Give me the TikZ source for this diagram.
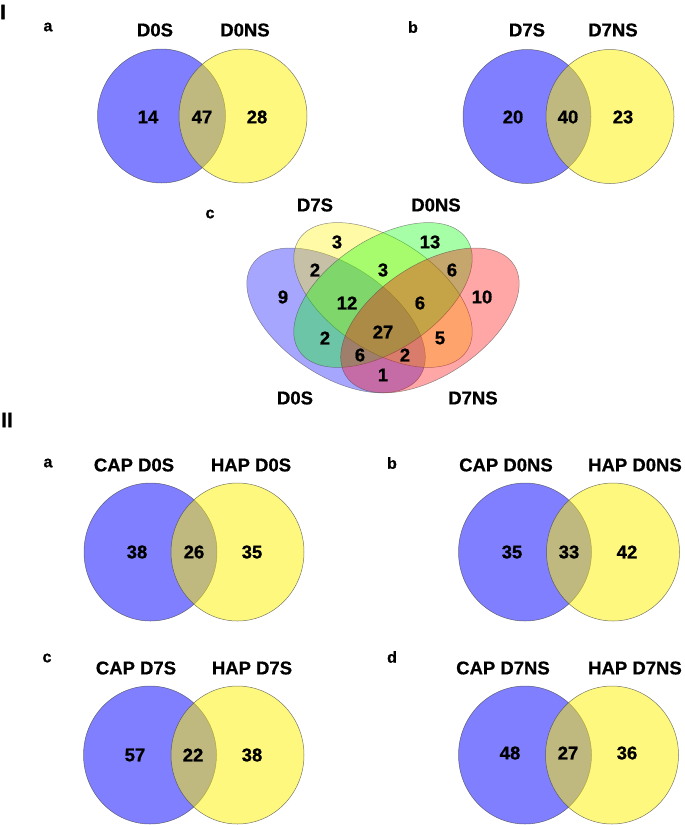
\documentclass[tikz,border=0pt]{standalone}
\usepackage{fontspec}
\setmainfont{Liberation Sans}[BoldFeatures={FakeBold=0.8}]
\usepackage{tikz}
\usetikzlibrary{positioning}

\begin{document}
\begin{tikzpicture}[
  x=1pt,y=1pt,
  lbl/.style={font=\bfseries\fontsize{18.5}{20}\selectfont,inner sep=0pt},
  num/.style={font=\bfseries\fontsize{18.5}{20}\selectfont,inner sep=0pt},
  tag/.style={font=\bfseries\fontsize{16}{18}\selectfont,inner sep=0pt},
  part/.style={font=\bfseries\fontsize{21}{24}\selectfont,inner sep=0pt},
  setblue/.style={fill=blue,fill opacity=0.5,draw=black!75,draw opacity=0.7,line width=0.5pt},
  setyellow/.style={fill=yellow,fill opacity=0.5,draw=black!75,draw opacity=0.7,line width=0.5pt},
  ]
  \tikzset{%
    quad/.style={
      fill opacity=0.35,
      draw=black!70,
      draw opacity=0.6,
      line width=0.5pt,
    },
  }
  \useasboundingbox (0,0) rectangle (685,-825);

  %Part I
  \node[part](partI) at (3,-12){I};

  %Ia
  \draw[setblue] (161.5,-116) ellipse (64 and 67);
  \draw[setyellow] (243,-116) ellipse (64 and 67);
  \node[tag](Ia) at (48,-27){a};
  \node[lbl](IaL) at (155,-30){D0S};
  \node[lbl](IaR) at (245,-30){D0NS};
  \node[num](IaA) at (148,-117){14};
  \node[num](IaAB) at (202,-117){47};
  \node[num](IaB) at (257,-117){28};

  %Ib
  \draw[setblue] (527,-116.5) ellipse (64 and 67);
  \draw[setyellow] (610,-116.5) ellipse (64 and 67);
  \node[tag](Ib) at (413,-27){b};
  \node[lbl](IbL) at (527,-30){D7S};
  \node[lbl](IbR) at (613,-30){D7NS};
  \node[num](IbA) at (513,-117){20};
  \node[num](IbAB) at (568,-117){40};
  \node[num](IbB) at (623,-117){23};

  %Ic
  \begin{scope}[shift={(383,-295)},xscale=313,yscale=254]
    \draw[quad,fill=blue,shift={(-0.15,-0.1)},rotate=135] (0,0) ellipse (0.35 and 0.2);
    \draw[quad,fill=yellow,rotate=135] (0,0) ellipse (0.35 and 0.2);
    \draw[quad,fill=green,rotate=45] (0,0) ellipse (0.35 and 0.2);
    \draw[quad,fill=red,shift={(0.15,-0.1)},rotate=45] (0,0) ellipse (0.35 and 0.2);
  \end{scope}
  \node[tag](Ic) at (210,-214){c};
  \node[lbl](IcD0S) at (295,-398){D0S};
  \node[lbl](IcD7S) at (315,-205){D7S};
  \node[lbl](IcD0NS) at (436,-205){D0NS};
  \node[lbl](IcD7NS) at (473,-398){D7NS};
  \node[num](n0010) at (337,-242){3};
  \node[num](n0100) at (430,-242){13};
  \node[num](n1010) at (315,-270){2};
  \node[num](n0110) at (383,-270){3};
  \node[num](n0101) at (452,-270){6};
  \node[num](n1000) at (283,-297){9};
  \node[num](n1110) at (347,-303){12};
  \node[num](n0111) at (420,-303){6};
  \node[num](n0001) at (482,-297){10};
  \node[num](n1111) at (383,-332){27};
  \node[num](n1100) at (325,-338){2};
  \node[num](n0011) at (440,-338){5};
  \node[num](n1101) at (360,-355){6};
  \node[num](n1011) at (405,-355){2};
  \node[num](n1001) at (383,-375){1};

  %Part II
  \node[part](partII) at (7,-420){II};

  %IIa
  \draw[setblue] (150.5,-552) ellipse (66.5 and 69);
  \draw[setyellow] (237.5,-552) ellipse (66.5 and 69);
  \node[tag](IIa) at (48,-463){a};
  \node[lbl](IIaL) at (134,-465){CAP D0S};
  \node[lbl](IIaR) at (251,-465){HAP D0S};
  \node[num](IIaA) at (137,-552){38};
  \node[num](IIaAB) at (194,-552){26};
  \node[num](IIaB) at (252,-552){35};

  %IIb
  \draw[setblue] (525,-552) ellipse (66.5 and 69);
  \draw[setyellow] (613,-552) ellipse (66.5 and 69);
  \node[tag](IIb) at (392,-463){b};
  \node[lbl](IIbL) at (506,-465){CAP D0NS};
  \node[lbl](IIbR) at (635,-465){HAP D0NS};
  \node[num](IIbA) at (512,-552){35};
  \node[num](IIbAB) at (569,-552){33};
  \node[num](IIbB) at (627,-552){42};

  %IIc
  \draw[setblue] (150,-755) ellipse (66.5 and 69);
  \draw[setyellow] (237.5,-755) ellipse (66.5 and 69);
  \node[tag](IIc) at (47,-658){c};
  \node[lbl](IIcL) at (136,-668){CAP D7S};
  \node[lbl](IIcR) at (252,-668){HAP D7S};
  \node[num](IIcA) at (135,-755){57};
  \node[num](IIcAB) at (193,-755){22};
  \node[num](IIcB) at (252,-755){38};

  %IId
  \draw[setblue] (525,-755) ellipse (66.5 and 69);
  \draw[setyellow] (612,-755) ellipse (66.5 and 69);
  \node[tag](IId) at (392,-657){d};
  \node[lbl](IIdL) at (503,-668){CAP D7NS};
  \node[lbl](IIdR) at (635,-668){HAP D7NS};
  \node[num](IIdA) at (510,-753){48};
  \node[num](IIdAB) at (568,-753){27};
  \node[num](IIdB) at (627,-753){36};
\end{tikzpicture}
\end{document}
